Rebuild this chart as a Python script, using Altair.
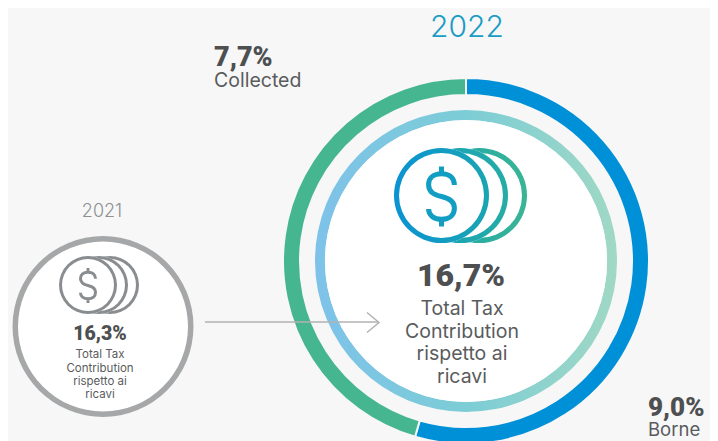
import altair as alt
import pandas as pd

FONT = "Inter"
BOLD_FONT = "Roboto"
BG = "#F7F7F7"
DARK = "#4D4F51"
MID = "#595B5D"

shares = ["Borne", "Collected"]
share_values = [9.1, 7.6]
share_labels = ["9,0%", "7,7%"]
share_colors = ["#0090D7", "#45B68F"]
years = ["2021", "2022"]
totals = ["16,3%", "16,7%"]
caption = ["Total Tax", "Contribution", "rispetto ai", "ricavi"]

DOLLAR = ("M0.43,-0.38 C0.43,-0.62 0.26,-0.76 0,-0.76 C-0.26,-0.76 -0.43,-0.62 -0.43,-0.4 "
          "C-0.43,-0.15 -0.26,-0.06 0,0 C0.26,0.06 0.43,0.16 0.43,0.38 C0.43,0.62 0.26,0.76 0,0.76 "
          "C-0.26,0.76 -0.43,0.62 -0.43,0.42 M0,-1 L0,-0.76 M0,0.76 L0,1")
CHEVRON = "M-0.6,-1 L0.6,0 L-0.6,1"
one = pd.DataFrame({"k": [0]})


def px(v):
    return alt.value(v - 8)


def grad(*colors):
    n = len(colors) - 1
    return {"gradient": "linear", "x1": 0, "x2": 1, "y1": 0, "y2": 0,
            "stops": [{"offset": i / n, "color": c} for i, c in enumerate(colors)]}


def disc(cx, cy, r, fill, inner=0):
    return alt.Chart(one).mark_arc(theta=0, theta2=6.2832, radius=r, radius2=inner, fill=fill, opacity=1).encode(
        x=px(cx), y=px(cy))


def label(txt, x, y, size, color, weight=400, align="center", font=FONT):
    return alt.Chart(pd.DataFrame({"t": [txt]})).mark_text(
        font=font, fontSize=size, fontWeight=weight, color=color, align=align, baseline="alphabetic"
    ).encode(x=px(x), y=px(y), text="t:N")


def coins(cx, cy, r, w, step, strokes):
    out = []
    for i in [2, 1, 0]:
        out.append(disc(cx + i * step, cy, r, "#FFFFFF"))
        out.append(disc(cx + i * step, cy, r, strokes[i], inner=r - w))
    return out


def symbol(shape, x, y, size, color, w):
    return alt.Chart(one).mark_point(shape=shape, size=size, stroke=color, strokeWidth=w, filled=False, opacity=1).encode(
        x=px(x), y=px(y))


ring_df = pd.DataFrame({"share": shares, "value": share_values, "o": [0, 1]})
outer = alt.Chart(ring_df).mark_arc(radius=183, radius2=166, stroke=BG, strokeWidth=2, opacity=1).encode(
    x=px(466), y=px(261),
    theta=alt.Theta("value:Q", stack=True),
    order=alt.Order("o:Q"),
    color=alt.Color("share:N", scale=alt.Scale(domain=shares, range=share_colors), legend=None),
)

layers = [
    outer,
    disc(466, 261, 151, grad("#7EC2E9", "#7CCDD6", "#A0D8C4"), inner=141),
    disc(466, 261, 141, "#FFFFFF"),
    *coins(441.5, 195.5, 47.5, 5, 19, [grad("#0A93D2", "#1AA5B2"), grad("#12A0BE", "#25ACA5"), grad("#1AA5B0", "#3AB594")]),
    symbol(DOLLAR, 441.5, 196.5, 3600, "#129EC2", 5),
    label(years[1], 467, 37, 30, "#1A9CC4", 300),
    label(share_labels[1], 214, 66, 27, DARK, 900, "left", BOLD_FONT),
    label(shares[1], 214, 87, 19.5, MID, 400, "left"),
    label(share_labels[0], 648, 416, 26, DARK, 900, "left", BOLD_FONT),
    label(shares[0], 648, 436, 18.5, MID, 400, "left"),
    label(totals[1], 461, 286, 32, DARK, 900, "center", BOLD_FONT),
    *[label(t, 462, y, 19.5, MID) for t, y in zip(caption, [315, 338, 360, 383])],
    disc(103, 326.5, 90.5, "#FFFFFF"),
    disc(103, 326.5, 90.5, "#A6A7A8", inner=85),
    *coins(88, 285, 29, 3, 11, ["#8A8D8F"] * 3),
    symbol(DOLLAR, 88, 285.5, 1225, "#8A8D8F", 3),
    label(years[0], 102, 217, 18, "#8E9092", 300),
    label(totals[0], 100, 340, 19.5, DARK, 900, "center", BOLD_FONT),
    *[label(t, 100, y, 11.5, MID) for t, y in zip(caption, [358, 372, 385, 398])],
    alt.Chart(one).mark_rule(color="#B2B2B2", strokeWidth=1.5).encode(x=px(205), x2=px(378), y=px(322)),
    symbol(CHEVRON, 373, 322.5, 400, "#B2B2B2", 1.5),
]

chart = alt.layer(*layers).properties(
    width=702, height=433, padding=0, background=BG,
    autosize=alt.AutoSizeParams(type="none"),
).configure_view(stroke=None)

chart.save("out.html", embed_options={"renderer": "svg", "actions": False})
